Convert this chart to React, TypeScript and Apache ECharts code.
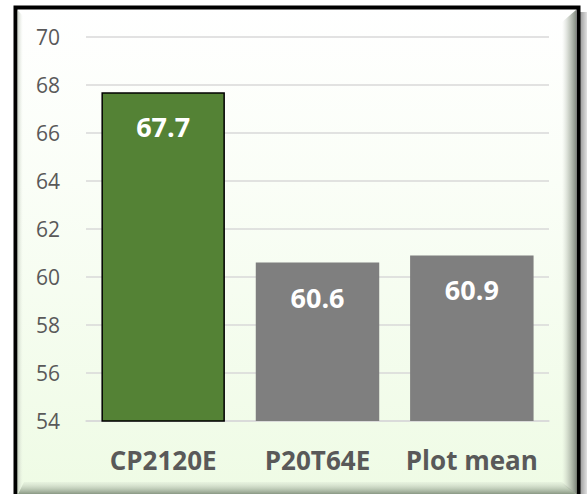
import React, { useEffect, useRef } from "react";
import * as echarts from "echarts";

const categories: string[] = ["CP2120E", "P20T64E", "Plot mean"];
const values: number[] = [67.7, 60.6, 60.9];
const barColors: string[] = ["#548235", "#7f7f7f", "#7f7f7f"];
const barBorders: string[] = ["#000000", "#7f7f7f", "#7f7f7f"];
const yMin = 54;
const yMax = 70;
const yStep = 2;

export default function App() {
  const ref = useRef<HTMLDivElement>(null);
  useEffect(() => {
    if (!ref.current) return;
    const chart = echarts.init(ref.current, undefined, { renderer: "svg" });
    const W = 587;
    const H = 494;
    chart.setOption({
      animation: false,
      graphic: [
        {
          type: "rect",
          z: -10,
          shape: { x: 0, y: 0, width: W, height: H },
          style: { fill: "#ffffff" },
          silent: true,
        },
        {
          type: "rect",
          z: -9,
          shape: { x: 580, y: 12, width: 7, height: H },
          style: {
            fill: new echarts.graphic.LinearGradient(0, 0, 1, 0, [
              { offset: 0, color: "#9a9a9a" },
              { offset: 1, color: "#e0e0e0" },
            ]),
          },
          silent: true,
        },
        {
          type: "rect",
          z: -8,
          shape: { x: 15.5, y: 7.5, width: 563, height: 500 },
          style: {
            fill: new echarts.graphic.LinearGradient(0, 0, 0, 1, [
              { offset: 0, color: "#ffffff" },
              { offset: 0.35, color: "#fafef7" },
              { offset: 1, color: "#eefbe4" },
            ]),
            stroke: "#000000",
            lineWidth: 4,
          },
          silent: true,
        },
        {
          type: "polygon",
          z: -7,
          shape: {
            points: [
              [576, 10],
              [576, 494],
              [562, 484],
              [562, 22],
            ],
          },
          style: {
            fill: new echarts.graphic.LinearGradient(0, 0, 1, 0, [
              { offset: 0, color: "rgba(200,205,195,0)" },
              { offset: 0.5, color: "rgba(170,178,165,0.6)" },
              { offset: 1, color: "rgba(120,128,118,0.9)" },
            ]),
          },
          silent: true,
        },
        {
          type: "polygon",
          z: -7,
          shape: {
            points: [
              [18, 494],
              [576, 494],
              [562, 482],
              [24, 482],
            ],
          },
          style: {
            fill: new echarts.graphic.LinearGradient(0, 0, 0, 1, [
              { offset: 0, color: "rgba(200,210,195,0.2)" },
              { offset: 1, color: "rgba(120,135,115,0.85)" },
            ]),
          },
          silent: true,
        },
        {
          type: "polygon",
          z: -7,
          shape: {
            points: [
              [17.5, 10],
              [23, 16],
              [23, 484],
              [17.5, 494],
            ],
          },
          style: {
            fill: new echarts.graphic.LinearGradient(0, 0, 1, 0, [
              { offset: 0, color: "rgba(180,190,175,0.7)" },
              { offset: 1, color: "rgba(230,235,225,0)" },
            ]),
          },
          silent: true,
        },
      ],
      grid: { left: 86, right: 38, top: 37, bottom: 73 },
      xAxis: {
        type: "category",
        data: categories,
        axisLine: { show: true, lineStyle: { color: "#d9d9d9", width: 1.5 } },
        axisTick: { show: false },
        axisLabel: {
          interval: 0,
          hideOverlap: false,
          color: "#595959",
          fontFamily: "Open Sans",
          fontWeight: "bold",
          fontSize: 26,
          margin: 26,
        },
      },
      yAxis: {
        type: "value",
        min: yMin,
        max: yMax,
        interval: yStep,
        axisLine: { show: false },
        axisTick: { show: false },
        splitLine: { lineStyle: { color: "#d9d9d9", width: 1.5 } },
        axisLabel: {
          color: "#595959",
          fontFamily: "Open Sans",
          fontSize: 21,
          margin: 26,
        },
      },
      series: [
        {
          type: "bar",
          barCategoryGap: "20%",
          data: values.map((v, i) => ({
            value: v,
            itemStyle: {
              color: barColors[i],
              borderColor: barBorders[i],
              borderWidth: i === 0 ? 1.5 : 0,
            },
          })),
          label: {
            show: true,
            position: "insideTop",
            distance: 21,
            color: "#ffffff",
            fontFamily: "Open Sans",
            fontWeight: "bold",
            fontSize: 27,
            formatter: (p: any) => p.value.toFixed(1),
          },
        },
      ],
    });
    return () => chart.dispose();
  }, []);
  return (
    <div
      ref={ref}
      style={{ position: "absolute", left: 0, top: 0, width: 587, height: 494 }}
    />
  );
}
